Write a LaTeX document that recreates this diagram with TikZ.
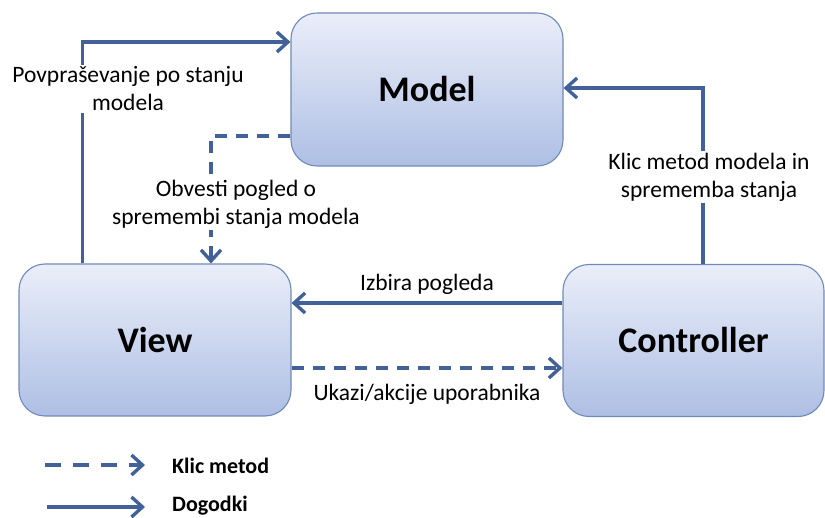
\documentclass[tikz,border=0pt]{standalone}
\usepackage{fontspec}
\setmainfont{Carlito}
\usetikzlibrary{arrows.meta}
\definecolor{boxtop}{RGB}{234,238,249}
\definecolor{boxbot}{RGB}{174,191,228}
\definecolor{boxedge}{RGB}{112,137,186}
\definecolor{wire}{RGB}{65,97,152}
\tikzset{
  part/.style={draw=boxedge, line width=1.1pt, rounded corners=26pt,
    top color=boxtop, bottom color=boxbot, inner sep=0pt, text=black,
    font=\fontsize{36}{40}\selectfont\bfseries},
  tip/.style={-{Straight Barb[length=11pt,width=20pt,line width=3.4pt]}},
  evt/.style={wire, line width=3.4pt, tip},
  call/.style={evt, dash pattern=on 12pt off 9pt},
  lbl/.style={font=\fontsize{23.5}{28}\selectfont, align=center, inner sep=2pt, text=black},
  keylbl/.style={font=\fontsize{22}{26}\selectfont\bfseries, anchor=west, inner sep=0pt, text=black}
}
\begin{document}
\begin{tikzpicture}[x=1pt,y=-1pt]
\useasboundingbox (0,0) rectangle (825,518);

% the three parts of the pattern
\node[part, minimum width=272pt, minimum height=153pt] (model) at (427,89.5) {Model};
\node[part, minimum width=272pt, minimum height=152pt] (view) at (155,340) {View};
\node[part, minimum width=261pt, minimum height=152pt] (ctrl) at (693.5,340.5) {Controller};

% view queries the model
\draw[evt] ([xshift=64pt]view.north west) |- ([yshift=47.5pt]model.west);
\node[lbl, fill=white] (qlbl) at (128,89) {Povpraševanje po stanju\\modela};

% model notifies the view
\draw[call] ([yshift=-46.5pt]model.west) -| ([xshift=56pt]view.north);
\node[lbl, fill=white] (nlbl) at (236,204) {Obvesti pogled o\\spremembi stanja modela};

% controller changes the model
\draw[evt] ([xshift=9.5pt]ctrl.north) |- ([yshift=1.5pt]model.east);
\node[lbl, fill=white] (clbl) at (709,177) {Klic metod modela in\\sprememba stanja};

% controller selects the view
\draw[evt] ([yshift=37.5pt]ctrl.west) -- ([yshift=37pt]view.east)
  node[lbl, midway, above=5pt] (slbl) {Izbira pogleda};

% user actions go to the controller
\draw[call] ([yshift=-28pt]view.east) -- ([yshift=-27.5pt]ctrl.west)
  node[lbl, midway, below=12pt] (ulbl) {Ukazi/akcije uporabnika};

% legend
\coordinate (k1a) at (45,465);
\coordinate (k1b) at (145,465);
\coordinate (k2a) at (47,507);
\coordinate (k2b) at (145,507);
\draw[evt, dash pattern=on 16pt off 12pt] (k1a) -- (k1b);
\draw[evt] (k2a) -- (k2b);
\node[keylbl] (k1t) at (172,466) {Klic metod};
\node[keylbl] (k2t) at (172,506) {Dogodki};
\end{tikzpicture}
\end{document}
